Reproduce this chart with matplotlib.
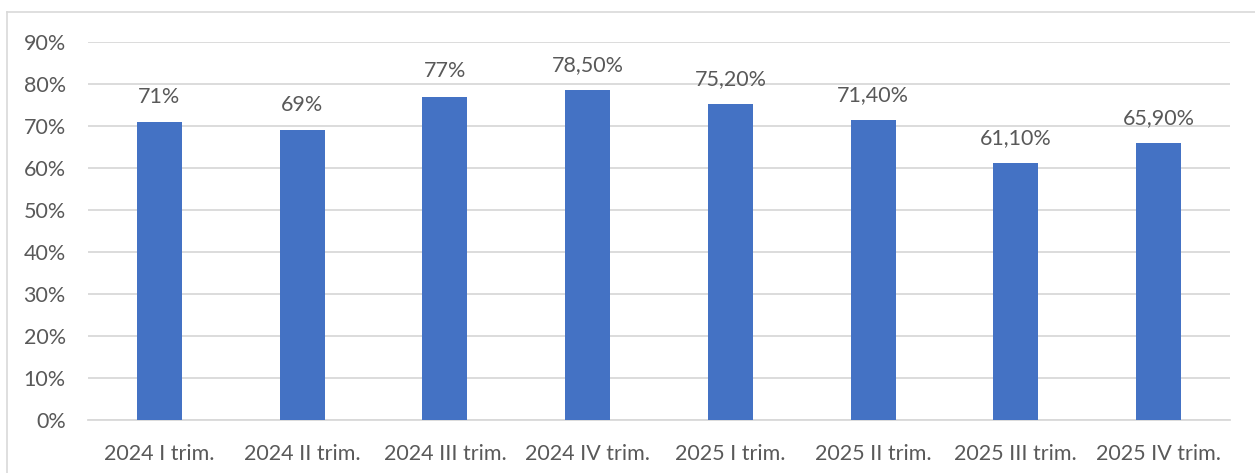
import matplotlib.pyplot as plt
from matplotlib.lines import Line2D

plt.rcParams['font.family'] = ['Lato', 'DejaVu Sans']

categories = ["2024 I trim.", "2024 II trim.", "2024 III trim.", "2024 IV trim.",
              "2025 I trim.", "2025 II trim.", "2025 III trim.", "2025 IV trim."]
values = [71, 69, 77, 78.5, 75.2, 71.4, 61.1, 65.9]
value_labels = ["71%", "69%", "77%", "78,50%", "75,20%", "71,40%", "61,10%", "65,90%"]
yticks = [0, 10, 20, 30, 40, 50, 60, 70, 80, 90]

text_col = '#595959'
grid_col = '#D9D9D9'
bar_col = '#4472C4'

fig = plt.figure(figsize=(12.55, 4.73), dpi=100)
ax = fig.add_axes([88 / 1255, 1 - 420 / 473, (1230 - 88) / 1255, 378 / 473])

x = range(len(categories))
bars = ax.bar(x, values, width=0.315, color=bar_col, zorder=3)

for b, lab in zip(bars, value_labels):
    ax.annotate(lab, (b.get_x() + b.get_width() / 2, b.get_height()),
                xytext=(0, 11), textcoords='offset points',
                ha='center', va='bottom', fontsize=15.5, color=text_col)

ax.set_xlim(-0.5, len(categories) - 0.5)
ax.set_ylim(0, 90)
ax.set_yticks(yticks)
ax.set_yticklabels([f"{t}%" for t in yticks])
ax.set_xticks(list(x))
ax.set_xticklabels(categories)
ax.tick_params(axis='both', length=0, labelsize=15.5, labelcolor=text_col)
ax.tick_params(axis='y', pad=16)
ax.tick_params(axis='x', pad=17)

ax.grid(axis='y', color=grid_col, linewidth=1.3, zorder=0)
for s in ['top', 'right', 'left']:
    ax.spines[s].set_visible(False)
ax.spines['bottom'].set_color(grid_col)
ax.spines['bottom'].set_linewidth(1.3)

# outer chart frame
fig.add_artist(Line2D([7 / 1255, 7 / 1255], [0, 1 - 12 / 473],
                      transform=fig.transFigure, color=grid_col, lw=1.2))
fig.add_artist(Line2D([7 / 1255, 1], [1 - 12 / 473, 1 - 12 / 473],
                      transform=fig.transFigure, color=grid_col, lw=1.2))

fig.savefig('out.png', dpi=100)
